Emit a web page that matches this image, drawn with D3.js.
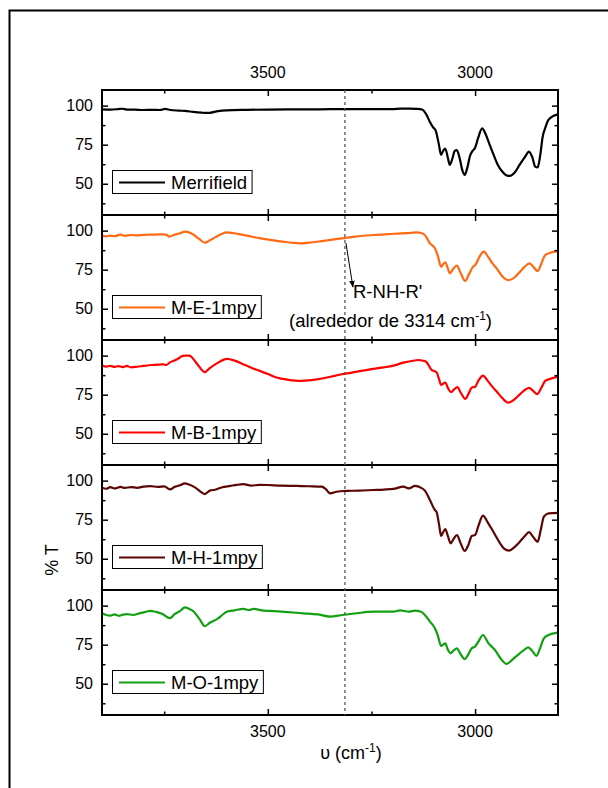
<!DOCTYPE html>
<html><head><meta charset="utf-8">
<script src="https://cdn.jsdelivr.net/npm/d3@7"></script>
<style>body{margin:0;background:#fff}svg{display:block}text{font-family:"Liberation Sans",Arial,sans-serif}</style>
</head><body><svg id="c" width="608" height="788"></svg>
<script>
const seriesNames = ["Merrifield","M-E-1mpy","M-B-1mpy","M-H-1mpy","M-O-1mpy"];
const seriesColors = ["#000000","#ff6a13","#ff0000","#5c0505","#12a012"];
const xTicksMajor = [3500,3000];
const xTicksMinor = [3750,3250];
const yTicksMajor = [50,75,100];
const yTicksMinor = [37.5,62.5,87.5];
const markerWn = 3314;

const wnMerrifield = [3900,3880,3860,3852,3840,3820,3800,3780,3760,3748,3735,3715,3700,3680,3660,3650,3640,3620,3600,3550,3500,3450,3400,3350,3300,3250,3200,3180,3160,3140,3128,3118,3108,3101,3095,3088,3082,3077,3072,3066,3061,3055,3049,3044,3037,3030,3025,3019,3012,3006,3000,2993,2983,2975,2965,2956,2945,2935,2925,2916,2905,2892,2880,2870,2862,2855,2849,2843,2837,2831,2825,2819,2810,2800];
const tMerrifield = [97.6,97.4,97.8,98.0,97.5,97.4,97.2,97.3,97.2,97.9,97.2,96.8,96.6,96.0,95.5,95.3,95.4,96.5,97.0,97.3,97.5,97.6,97.6,97.7,97.7,97.8,97.8,98.1,98.1,97.9,97.5,94.5,89,86,84,76,68.5,71,72.5,67,62,66,71,71.5,66,58,55.6,60,68,71,73,79,85.5,82,75,69,62,58,55.5,55,57,62.4,67,70.6,67,61,60.4,68,80,85.5,90,92,93.5,94.4];

const wnME = [3900,3890,3880,3870,3855,3845,3830,3815,3800,3780,3760,3745,3738,3725,3712,3700,3690,3680,3665,3652,3640,3625,3612,3599,3585,3570,3550,3520,3490,3460,3440,3422,3400,3370,3340,3322,3290,3246,3210,3177,3155,3141,3130,3120,3109,3097,3090,3082,3077,3072,3066,3061,3053,3044,3035,3024,3015,3006,2998,2990,2979,2968,2958,2948,2935,2918,2905,2892,2880,2869,2860,2849,2840,2831,2819,2800];
const tME = [96.6,96.3,96.8,96.4,97.5,96.7,97.2,96.9,97.3,97.4,97.6,97.4,96.2,97.4,98.3,99.3,98.9,97.5,94.5,92.3,93.8,96.0,97.8,98.9,98.5,97.8,96.8,95.2,93.9,92.8,92.2,91.9,92.3,93.3,94.4,95.0,96.2,97.2,97.7,98.3,98.6,98.9,98.5,96.8,91.9,88.7,84,76.9,78.5,79.7,76,72.7,75.5,77.6,73,67.8,72,76.5,78.5,83,86.5,83,79,75.8,71,68.3,70,73.6,77,79,77,74.1,79,84.3,85.8,86.9];

const wnMB = [3900,3890,3880,3870,3860,3850,3840,3830,3815,3800,3780,3760,3752,3745,3736,3720,3705,3700,3690,3685,3670,3652,3640,3620,3599,3580,3555,3527,3500,3479,3450,3422,3395,3366,3340,3322,3300,3270,3246,3220,3197,3173,3150,3137,3125,3118,3105,3093,3087,3082,3077,3072,3065,3058,3050,3043,3034,3024,3015,3008,3000,2992,2981,2970,2958,2948,2935,2920,2905,2892,2880,2870,2860,2850,2840,2831,2819,2800];
const tMB = [93.6,93.0,93.4,92.8,93.3,92.7,93.4,92.5,92.9,93.4,94.0,94.3,94.4,94.0,95.7,97.5,99.8,100,100,99.4,94.5,89.4,92,95.5,97.9,96.8,94,90.9,88.3,86,84.5,83.8,84.3,85.5,87,88.1,89,90.4,91.5,92.5,93.6,95.5,96.7,97.2,96.7,96.1,90.9,89.4,85,81.3,82,82.8,79,76.6,78.5,79.8,76,72.3,76,79.6,80,84,87.2,84,80,77,73,69.9,72,75.2,78,79.4,77.5,75.4,79.5,83.8,85.1,86.6];

const wnMH = [3900,3890,3880,3870,3855,3845,3830,3815,3800,3784,3765,3750,3736,3725,3712,3700,3690,3675,3660,3652,3640,3625,3610,3591,3575,3559,3540,3520,3500,3470,3430,3400,3370,3360,3350,3334,3310,3280,3246,3220,3197,3173,3160,3145,3135,3121,3109,3097,3093,3087,3082,3077,3072,3065,3059,3051,3044,3035,3025,3016,3008,3000,2992,2981,2970,2956,2940,2930,2918,2905,2892,2880,2870,2860,2849,2842,2834,2823,2800];
const tMH = [95.5,94.8,95.8,95.0,96.0,95.3,95.9,95.4,96.2,96.5,96.0,96.3,94.4,96.0,97.0,98.3,97.5,95.5,92.5,91.4,93.6,94.3,95.8,96.6,97.3,97.7,96.8,97.3,97.2,96.8,96.6,96.4,96.1,94.5,91.9,92.9,93.4,93.6,94.0,94.3,94.7,96.1,95.0,96.6,96.0,93.6,87.6,81.2,80,72,64.6,67,69,64,59.9,63,65.2,60,55,59,64.6,65.2,71,77.6,73.5,67.3,60,56.5,55.2,57.5,60.9,64.5,67,64,60.9,68,76.9,79.1,79.4];

const wnMO = [3900,3890,3880,3870,3860,3850,3840,3825,3810,3795,3784,3770,3755,3736,3725,3712,3700,3690,3680,3665,3652,3640,3620,3610,3599,3580,3559,3545,3535,3515,3495,3460,3414,3380,3350,3320,3286,3246,3197,3181,3160,3145,3132,3125,3109,3097,3090,3082,3077,3072,3066,3059,3051,3044,3035,3025,3016,3008,3000,2992,2981,2968,2952,2938,2924,2910,2892,2880,2872,2862,2852,2843,2834,2823,2800];
const tMO = [95.1,94.0,93.6,94.4,93.5,94.2,94.6,94.0,95.0,96.0,96.6,96.0,94.8,92.0,94.5,96.5,98.9,98.0,96.5,91.5,86.9,89,91.8,94,96.1,97.0,97.9,97.2,97.9,97.0,96.6,96.0,95.1,94.4,93.0,94,95.1,96.1,96.1,97.0,96.1,96.8,96.2,95.1,89.8,85.5,81,74.2,75,75.9,72,69.5,71.5,72.7,69,65.8,69,72.7,73.8,77,81.2,76,71.6,66,62.7,65.5,69.5,72,73.3,71,67.9,73,79.1,81.2,82.7];

const allWn = [wnMerrifield, wnME, wnMB, wnMH, wnMO];
const allT = [tMerrifield, tME, tMB, tMH, tMO];

const svg = d3.select("#c");
const L = 102, R = 558, panelTop0 = 90, panelH = 125, nP = 5;
const bottom = panelTop0 + panelH * nP;
const x = d3.scaleLinear().domain([3900, 2800]).range([L, R]);

// outer frame
svg.append("rect").attr("x", 9.5).attr("y", 10.5).attr("width", 640).attr("height", 800)
  .attr("fill", "none").attr("stroke", "#000").attr("stroke-width", 2);

svg.append("clipPath").attr("id", "plotclip").append("rect")
  .attr("x", L).attr("y", panelTop0).attr("width", R - L).attr("height", bottom - panelTop0);

for (let i = 0; i < nP; i++) {
  const top = panelTop0 + i * panelH;
  const y = d3.scaleLinear().domain([30, 110]).range([top + panelH, top]);
  const g = svg.append("g");
  // curve
  const pts = allWn[i].map((w, k) => [w, allT[i][k]]);
  const line = d3.line().x(d => x(d[0])).y(d => y(d[1])).curve(d3.curveMonotoneX);
  g.append("path").datum(pts).attr("d", line).attr("fill", "none")
    .attr("stroke", seriesColors[i]).attr("stroke-width", 2.2).attr("stroke-linejoin", "round")
    .attr("clip-path", "url(#plotclip)");
  // y axes left & right (inward ticks)
  const yl = g.append("g").attr("transform", `translate(${L},0)`)
    .call(d3.axisRight(y).tickValues(yTicksMajor).tickSize(6).tickFormat(""));
  g.append("g").attr("transform", `translate(${L},0)`)
    .call(d3.axisRight(y).tickValues(yTicksMinor).tickSize(3.5).tickFormat(""));
  g.append("g").attr("transform", `translate(${R},0)`)
    .call(d3.axisLeft(y).tickValues(yTicksMajor).tickSize(6).tickFormat(""));
  g.append("g").attr("transform", `translate(${R},0)`)
    .call(d3.axisLeft(y).tickValues(yTicksMinor).tickSize(3.5).tickFormat(""));
  // y tick labels
  g.selectAll("text.yl").data(yTicksMajor).enter().append("text")
    .attr("x", L - 9).attr("y", d => y(d)).attr("dy", "0.35em")
    .attr("text-anchor", "end").attr("font-size", 16).text(d => d);
  // x ticks top & bottom of each panel
  g.append("g").attr("transform", `translate(0,${top})`)
    .call(d3.axisBottom(x).tickValues(xTicksMajor).tickSize(6).tickFormat(""));
  g.append("g").attr("transform", `translate(0,${top})`)
    .call(d3.axisBottom(x).tickValues(xTicksMinor).tickSize(3.5).tickFormat(""));
  g.append("g").attr("transform", `translate(0,${top + panelH})`)
    .call(d3.axisTop(x).tickValues(xTicksMajor).tickSize(6).tickFormat(""));
  g.append("g").attr("transform", `translate(0,${top + panelH})`)
    .call(d3.axisTop(x).tickValues(xTicksMinor).tickSize(3.5).tickFormat(""));
  // frame
  g.append("rect").attr("x", L).attr("y", top).attr("width", R - L).attr("height", panelH)
    .attr("fill", "none").attr("stroke", "#000").attr("stroke-width", 2);
  // legend
  const ly = top + 80, lh = 23;
  const lg = g.append("g");
  const box = lg.append("rect").attr("x", 112.5).attr("y", ly + 0.5).attr("height", lh)
    .attr("fill", "#fff").attr("stroke", "#000").attr("stroke-width", 1);
  lg.append("line").attr("x1", 119).attr("x2", 165).attr("y1", ly + lh / 2 + 1).attr("y2", ly + lh / 2 + 1)
    .attr("stroke", seriesColors[i]).attr("stroke-width", 2.2);
  const t = lg.append("text").attr("x", 171).attr("y", ly + lh / 2 + 1).attr("dy", "0.36em")
    .attr("font-size", 18.5).text(seriesNames[i]);
  box.attr("width", 171 + t.node().getComputedTextLength() + 5 - 112.5);
}
// clean axis domains (frames drawn separately)
svg.selectAll(".domain").remove();
svg.selectAll(".tick line").attr("stroke", "#000").attr("stroke-width", 1.5);

// dashed marker line
svg.append("line").attr("x1", x(markerWn)).attr("x2", x(markerWn))
  .attr("y1", panelTop0).attr("y2", bottom)
  .attr("stroke", "#555").attr("stroke-width", 1.3).attr("stroke-dasharray", "3,3");

// top and bottom x tick labels
svg.selectAll("text.xt").data(xTicksMajor).enter().append("text")
  .attr("x", d => x(d)).attr("y", 78).attr("text-anchor", "middle").attr("font-size", 16).text(d => d);
svg.selectAll("text.xb").data(xTicksMajor).enter().append("text")
  .attr("x", d => x(d)).attr("y", 737).attr("text-anchor", "middle").attr("font-size", 16).text(d => d);

// x title
const xt = svg.append("text").attr("x", 351).attr("y", 759).attr("text-anchor", "middle").attr("font-size", 18);
xt.append("tspan").text("υ (cm");
xt.append("tspan").attr("font-size", 12).attr("dy", -7).text("-1");
xt.append("tspan").attr("dy", 7).text(")");

// y title
svg.append("text").attr("transform", "translate(58,560) rotate(-90)").attr("text-anchor", "middle")
  .attr("font-size", 18).text("% T");

// annotation
svg.append("defs").append("marker").attr("id", "ah").attr("viewBox", "0 0 10 10")
  .attr("refX", 9).attr("refY", 5).attr("markerWidth", 7).attr("markerHeight", 7).attr("orient", "auto")
  .append("path").attr("d", "M0,1L10,5L0,9Z").attr("fill", "#000");
svg.append("line").attr("x1", x(markerWn) + 1).attr("y1", 243).attr("x2", x(markerWn) + 8).attr("y2", 287)
  .attr("stroke", "#000").attr("stroke-width", 1).attr("marker-end", "url(#ah)");
svg.append("text").attr("x", 353).attr("y", 298).attr("font-size", 18.5).text("R-NH-R'");
const an = svg.append("text").attr("x", 289).attr("y", 327).attr("font-size", 18.5);
an.append("tspan").text("(alrededor de 3314 cm");
an.append("tspan").attr("font-size", 12).attr("dy", -7).text("-1");
an.append("tspan").attr("dy", 7).text(")");
</script></body></html>
